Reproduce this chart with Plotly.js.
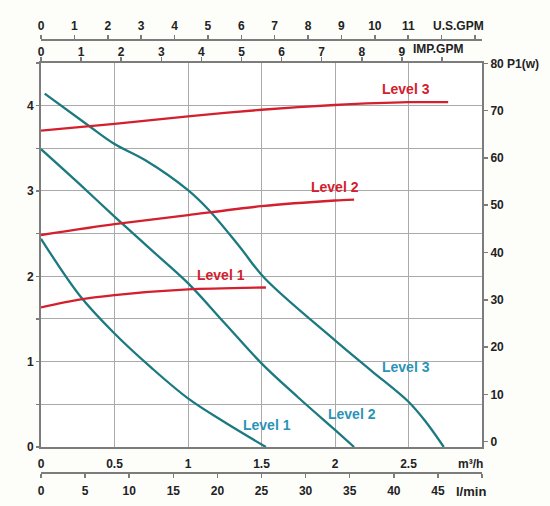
<!DOCTYPE html>
<html>
<head>
<meta charset="utf-8">
<script src="https://cdn.plot.ly/plotly-3.0.1.min.js"></script>
<style>
  html, body { margin: 0; padding: 0; background: #fdfdfa; }
  #chart { width: 550px; height: 506px; }
</style>
</head>
<body>
<div id="chart"></div>
<script>
// Pump curves: head (m) and power input P1 (W) against flow (m³/h)

// ── Head curves (teal) ──────────────────────────────────────────────
const headFlow1 = [0, 0.27, 0.5, 0.75, 1.0, 1.25, 1.53];
const headL1    = [2.44, 1.76, 1.33, 0.93, 0.57, 0.29, 0];
const headFlow2 = [0, 0.25, 0.5, 0.75, 1.0, 1.25, 1.5, 1.75, 2.0, 2.13];
const headL2    = [3.49, 3.10, 2.70, 2.31, 1.92, 1.45, 0.98, 0.58, 0.2, 0];
const headFlow3 = [0.025, 0.32, 0.5, 0.71, 1.0, 1.14, 1.35, 1.52, 2.0, 2.25, 2.5, 2.62, 2.74];
const headL3    = [4.14, 3.77, 3.55, 3.36, 3.01, 2.78, 2.35, 1.98, 1.25, 0.89, 0.53, 0.29, 0];

// ── Power curves P1 (red) ───────────────────────────────────────────
const powFlow1 = [0, 0.25, 0.5, 1.0, 1.53];
const powL1    = [28.4, 30.0, 31.0, 32.2, 32.6];
const powFlow2 = [0, 0.5, 1.0, 1.5, 2.0, 2.13];
const powL2    = [43.7, 46.0, 47.9, 49.8, 51.0, 51.2];
const powFlow3 = [0, 0.5, 1.0, 1.5, 2.0, 2.5, 2.77];
const powL3    = [65.8, 67.2, 68.8, 70.2, 71.2, 71.8, 71.8];

// ── Tick labels ─────────────────────────────────────────────────────
const flowTicks   = [0, 0.5, 1, 1.5, 2, 2.5];
const flowLabels  = ['0', '0.5', '1', '1.5', '2', '2.5'];
const headTicks   = [0, 0.5, 1, 1.5, 2, 2.5, 3, 3.5, 4, 4.5];
const headLabels  = ['0', '', '1', '', '2', '', '3', '', '4', ''];
const powTicks    = [0, 10, 20, 30, 40, 50, 60, 70, 80];
const powLabels   = ['0', '10', '20', '30', '40', '50', '60', '70', '80 P1(w)'];
const usTicks     = [0, 1, 2, 3, 4, 5, 6, 7, 8, 9, 10, 11, 12, 13];
const usLabels    = ['0', '1', '2', '3', '4', '5', '6', '7', '8', '9', '10', '11', '', ''];
const impTicks    = [0, 1, 2, 3, 4, 5, 6, 7, 8, 9, 10, 11];
const impLabels   = ['0', '1', '2', '3', '4', '5', '6', '7', '8', '9', '', ''];
const lminTicks   = [0, 5, 10, 15, 20, 25, 30, 35, 40, 45, 50];
const lminLabels  = ['0', '5', '10', '15', '20', '25', '30', '35', '40', '45', ''];

const TEAL      = '#1b7a80';
const TEAL_TEXT = '#2b93b8';
const RED       = '#d4202e';
const AXIS      = '#7c7c7c';
const GRID      = '#aaaaaa';
const FONT      = 'Liberation Sans, Arial, sans-serif';
const TICKFONT  = { family: FONT, size: 12, color: '#222' };

const bold = arr => arr.map(s => s ? '<b>' + s + '</b>' : '');

function headTrace(x, y) {
  return { type: 'scatter', mode: 'lines', x: x, y: y, xaxis: 'x', yaxis: 'y',
           line: { color: TEAL, width: 2.3, shape: 'spline', smoothing: 1.0 }, hoverinfo: 'skip' };
}
function powTrace(x, y) {
  return { type: 'scatter', mode: 'lines', x: x, y: y, xaxis: 'x', yaxis: 'y2',
           line: { color: RED, width: 2.3, shape: 'spline', smoothing: 0.7 }, hoverinfo: 'skip' };
}
// invisible traces so the extra flow scales get drawn
function ghost(xa) {
  return { type: 'scatter', mode: 'markers', x: [0], y: [0], xaxis: xa, yaxis: 'y',
           marker: { opacity: 0 }, hoverinfo: 'skip' };
}

const data = [
  headTrace(headFlow1, headL1), headTrace(headFlow2, headL2), headTrace(headFlow3, headL3),
  powTrace(powFlow1, powL1), powTrace(powFlow2, powL2), powTrace(powFlow3, powL3),
  ghost('x2'), ghost('x3'), ghost('x4'),
];

const scaleAxis = {
  showgrid: false, zeroline: false, fixedrange: true,
  showline: true, linecolor: AXIS, linewidth: 2,
  ticks: 'outside', ticklen: 4, tickcolor: AXIS, tickwidth: 1.5,
  tickfont: TICKFONT, tickmode: 'array',
};

function lbl(text, x, y, color, xref, yref, size) {
  return { text: '<b>' + text + '</b>', x: x, y: y, xref: xref || 'x', yref: yref || 'y',
           showarrow: false, xanchor: 'center', yanchor: 'middle',
           font: { family: FONT, size: size || 12, color: color } };
}

const layout = {
  width: 550, height: 506,
  paper_bgcolor: '#fdfdfa',
  plot_bgcolor: '#ffffff',
  showlegend: false,
  margin: { l: 41, r: 68, t: 40, b: 33 },
  xaxis: Object.assign({}, scaleAxis, {
    range: [0, 3], tickvals: flowTicks, ticktext: bold(flowLabels),
    showgrid: true, gridcolor: GRID, gridwidth: 1,
    ticks: '', ticklabelstandoff: 5, mirror: true,
    anchor: 'y',
  }),
  xaxis2: Object.assign({}, scaleAxis, {
    range: [0, 13.21], tickvals: usTicks, ticktext: bold(usLabels),
    overlaying: 'x', anchor: 'free', position: 1, side: 'top',
  }),
  xaxis3: Object.assign({}, scaleAxis, {
    range: [0, 10.998], tickvals: impTicks, ticktext: bold(impLabels),
    overlaying: 'x', anchor: 'y', side: 'top', ticklabelstandoff: -4,
  }),
  xaxis4: Object.assign({}, scaleAxis, {
    range: [0, 50], tickvals: lminTicks, ticktext: bold(lminLabels),
    overlaying: 'x', anchor: 'free', position: 0, side: 'bottom', ticklabelstandoff: 3,
  }),
  yaxis: Object.assign({}, scaleAxis, {
    domain: [0.060, 0.947], range: [0, 4.5],
    tickvals: headTicks, ticktext: bold(headLabels),
    showgrid: true, gridcolor: GRID, gridwidth: 1, ticklen: 3,
    mirror: true,
  }),
  yaxis2: Object.assign({}, scaleAxis, {
    range: [-1.15, 80.1], tickvals: powTicks, ticktext: bold(powLabels),
    overlaying: 'y', side: 'right', anchor: 'x',
  }),
  annotations: [
    lbl('U.S.GPM', 2.837, 1.032, '#222', 'x', 'paper'),
    lbl('IMP.GPM', 2.70, 0.9785, '#222', 'x', 'paper'),
    lbl('m³/h', 2.925, 0.0208, '#222', 'x', 'paper'),
    lbl('l/min', 2.925, -0.0416, '#222', 'x', 'paper', 13),
    lbl('m', -0.092, 0.9215, '#222', 'x', 'paper'),
    lbl('Level 3', 2.485, 4.197, RED, 'x', 'y', 14),
    lbl('Level 2', 2.003, 3.048, RED, 'x', 'y', 14),
    lbl('Level 1', 1.224, 2.016, RED, 'x', 'y', 14),
    lbl('Level 1', 1.536, 0.258, TEAL_TEXT, 'x', 'y', 14),
    lbl('Level 2', 2.119, 0.387, TEAL_TEXT, 'x', 'y', 14),
    lbl('Level 3', 2.485, 0.938, TEAL_TEXT, 'x', 'y', 14),
  ],
};

Plotly.newPlot('chart', data, layout, { displayModeBar: false, staticPlot: true });
</script>
</body>
</html>
